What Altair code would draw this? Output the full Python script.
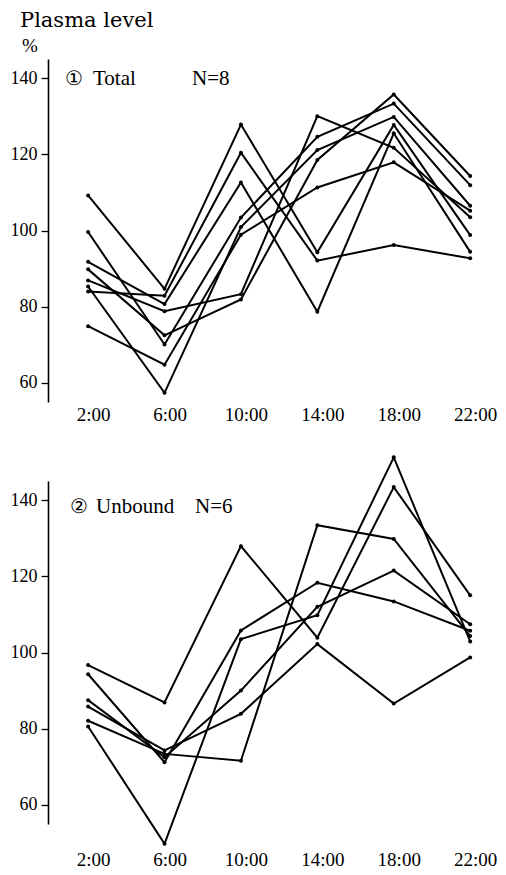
import altair as alt
import pandas as pd

SERIF = "Liberation Serif"

hours = [2, 6, 10, 14, 18, 22]

# ① Total  N=8  (plasma level, % of mean)
total_1 = [109.2, 84.7, 127.8, 94.3, 127.7, 98.8]
total_2 = [84.0, 82.9, 120.4, 92.1, 96.2, 92.7]
total_3 = [91.8, 80.7, 112.6, 78.7, 125.5, 94.4]
total_4 = [86.9, 78.8, 83.3, 130.0, 121.7, 103.5]
total_5 = [89.8, 72.5, 81.9, 118.5, 135.7, 114.3]
total_6 = [99.6, 70.1, 103.4, 124.6, 133.3, 111.9]
total_7 = [74.9, 64.8, 98.9, 111.3, 117.9, 105.2]
total_8 = [85.3, 57.4, 100.9, 121.1, 129.8, 106.5]

# ② Unbound  N=6
unbound_1 = [96.7, 86.9, 127.9, 103.9, 143.4, 115.0]
unbound_2 = [80.6, 49.8, 103.5, 109.8, 151.2, 102.9]
unbound_3 = [94.3, 71.2, 105.8, 118.3, 113.4, 105.7]
unbound_4 = [87.5, 72.5, 90.0, 112.0, 121.5, 107.4]
unbound_5 = [85.8, 74.3, 83.9, 102.2, 86.6, 98.7]
unbound_6 = [82.1, 73.4, 71.6, 133.4, 129.8, 104.3]

y_ticks = [60, 80, 100, 120, 140]

total_series = [total_1, total_2, total_3, total_4, total_5, total_6, total_7, total_8]
unbound_series = [unbound_1, unbound_2, unbound_3, unbound_4, unbound_5, unbound_6]


def frame(series_list):
    rows = []
    for i, s in enumerate(series_list):
        for h, v in zip(hours, s):
            rows.append({"series": f"s{i + 1}", "hour": h, "value": v})
    return pd.DataFrame(rows)


PW, PH = 447, 343
xscale = alt.Scale(domain=[-0.1, 23.3], nice=False, zero=False)
yscale = alt.Scale(domain=[55, 145], nice=False, zero=False)


def panel(df, label_pad, notes):
    x = alt.X(
        "hour:Q", scale=xscale,
        axis=alt.Axis(values=hours, labelExpr="datum.value + ':00'", domain=False,
                      ticks=False, tickSize=0, grid=False, labelPadding=label_pad,
                      labelFont=SERIF, labelFontSize=19, labelColor="black",
                      labelOffset=5, labelFlush=False, title=None),
    )
    y = alt.Y(
        "value:Q", scale=yscale,
        axis=alt.Axis(values=y_ticks, grid=False, domainColor="black", domainWidth=1.6,
                      tickColor="black", tickWidth=1.3, tickSize=7, labelPadding=4,
                      labelFont=SERIF, labelFontSize=18, labelColor="black", title=None),
    )
    base = alt.Chart(df)
    lines = base.mark_line(color="black", strokeWidth=2, clip=False).encode(
        x=x, y=y, detail="series:N", order="hour:Q")
    pts = base.mark_circle(color="black", size=16, opacity=1, clip=False).encode(
        x=x, y=y, detail="series:N")
    layers = [lines, pts]
    for text, xp, yp, align, fs in notes:
        layers.append(
            alt.Chart(pd.DataFrame({"t": [text]})).mark_text(
                align=align, baseline="middle", font=SERIF, fontSize=fs, color="black"
            ).encode(x=alt.value(xp), y=alt.value(yp), text="t:N")
        )
    return alt.layer(*layers).properties(width=PW, height=PH)


top = panel(frame(total_series), 3,
            [("%", -18, -13, "center", 19),
             ("①", 17, 20, "left", 20),
             ("Total", 45, 20, "left", 21),
             ("N=8", 144, 20, "left", 21)])
bottom = panel(frame(unbound_series), 26,
               [("②", 22, 26, "left", 20),
                ("Unbound", 48, 26, "left", 21),
                ("N=6", 147, 26, "left", 21)])

chart = alt.vconcat(top, bottom, spacing=79, bounds="flush").properties(
    title=alt.TitleParams("Plasma level", anchor="start", font="DejaVu Serif",
                          fontSize=21, fontWeight="normal", color="black", dx=10, offset=6),
    padding={"left": 2, "top": 2, "right": 0, "bottom": 0},
    background="white",
).configure_view(stroke=None)

chart.save("out.html", embed_options={"renderer": "svg", "actions": False})
